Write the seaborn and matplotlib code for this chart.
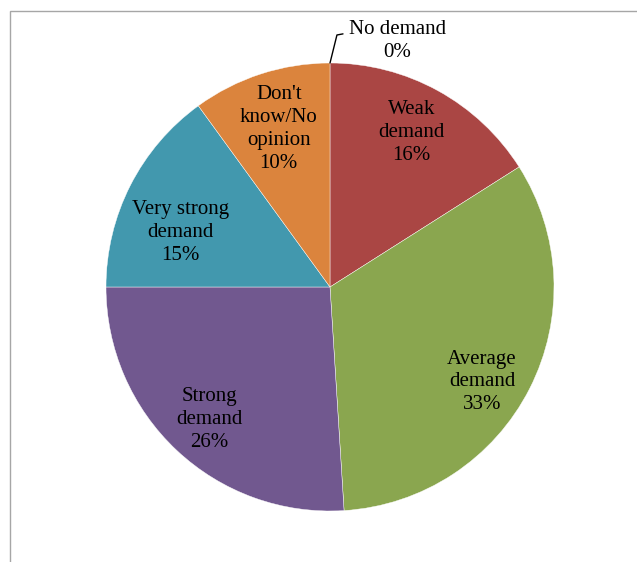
import matplotlib
matplotlib.use("Agg")
import matplotlib.pyplot as plt
import seaborn as sns
import numpy as np
from matplotlib.patches import Rectangle

categories = ["No demand", "Weak\ndemand", "Average\ndemand", "Strong\ndemand",
              "Very strong\ndemand", "Don't\nknow/No\nopinion"]
shares = [0, 16, 33, 26, 15, 10]
colors = ["#4A7EBB", "#AA4644", "#8AA64F", "#71588F", "#4298AE", "#DB843D"]
# label placement: distance from centre (in radii) and clockwise nudge (deg)
label_radius = [None, 0.78, 0.80, 0.80, 0.71, 0.74]
label_nudge = [0, -1, 5, -1, -7, 0]

sns.set_theme(style="white")
plt.rcParams["font.family"] = ["Liberation Serif", "DejaVu Serif"]

W, H = 637, 562
fig = plt.figure(figsize=(W / 100, H / 100), dpi=100)

# outer chart border (runs off the right and bottom edges)
fig.patches.append(Rectangle((9.5 / W, -0.1), 1.2, (H - 10.5) / H + 0.1,
                             transform=fig.transFigure, fill=False,
                             edgecolor="#A6A6A6", linewidth=1.0))

cx, cy, r = 330, 287, 224
ax = fig.add_axes([(cx - r) / W, (H - cy - r) / H, 2 * r / W, 2 * r / H])

wedges, _ = ax.pie(shares, colors=sns.color_palette(colors), startangle=90,
                   counterclock=False, radius=1,
                   wedgeprops=dict(edgecolor="white", linewidth=0.3))
ax.set_xlim(-1, 1)
ax.set_ylim(-1, 1)
ax.set_aspect("equal")
ax.axis("off")

for w, cat, val, rr, nd in zip(wedges, categories, shares, label_radius, label_nudge):
    if rr is None:
        continue
    mid = np.deg2rad((w.theta1 + w.theta2) / 2 - nd)
    ax.text(rr * np.cos(mid), rr * np.sin(mid), f"{cat}\n{val}%",
            ha="center", va="center", fontsize=15, color="black",
            linespacing=1.28)

# zero-share slice: label above the pie with a leader line
w0 = wedges[0]
a0 = np.deg2rad(w0.theta1)
x0, y0 = np.cos(a0), np.sin(a0)
ax.plot([x0, x0 + 0.031, x0 + 0.058], [y0, y0 + 0.125, y0 + 0.13],
        color="black", linewidth=1.0, clip_on=False)
ax.text(0.30, 1.10, f"{categories[0]}\n{shares[0]}%", ha="center", va="center",
        fontsize=15, color="black", linespacing=1.28)

fig.savefig("out.png", dpi=100)
